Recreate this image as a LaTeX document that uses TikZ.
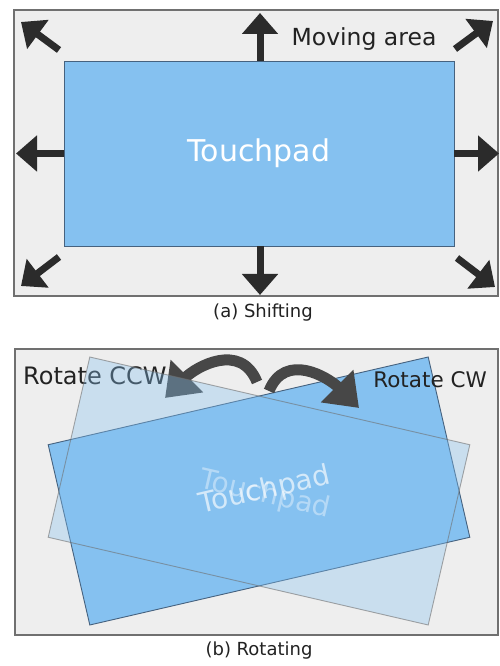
\documentclass[tikz,border=0pt]{standalone}
\usepackage{fontspec}
\setmainfont{DejaVu Sans}
\usetikzlibrary{arrows.meta}

\definecolor{panelgray}{HTML}{EEEEEE}
\definecolor{framegray}{HTML}{707070}
\definecolor{padblue}{HTML}{85C1F0}
\definecolor{padedge}{HTML}{46627F}
\definecolor{arrowdark}{HTML}{2B2B2B}
\definecolor{curvedark}{HTML}{474747}
\definecolor{labeldark}{HTML}{222222}

\begin{document}
\begin{tikzpicture}[x=1pt,y=1pt,
  panel/.style={draw=framegray, line width=1.6pt, fill=panelgray, inner sep=0pt},
  pad/.style={draw=padedge, line width=0.9pt, fill=padblue, inner sep=0pt,
    minimum width=390pt, minimum height=185pt, text=white,
    font=\fontsize{30}{30}\selectfont},
  ghostpad/.style={pad, draw=framegray, fill opacity=0.35, draw opacity=0.6},
  padtext/.style={inner sep=0pt, text=white, font=\fontsize{28}{28}\selectfont},
  movearrow/.style={draw=arrowdark, line width=7pt,
    -{Triangle[width=35pt,length=21pt]}},
  turnarrow/.style={draw=curvedark, line width=11pt, line cap=butt,
    -{Triangle[width=44pt,length=31pt]}},
  label/.style={text=labeldark, inner sep=0pt},
  caption/.style={text=labeldark, inner sep=0pt, font=\fontsize{18}{18}\selectfont}
]
\useasboundingbox[fill=white] (0,0) rectangle (499,666);

% ---------- (a) shifting ----------
\node[panel, minimum width=484pt, minimum height=286pt] (area) at (256,513) {};
\node[pad] (pad) at (259,512.5) {Touchpad};

\coordinate (upend)    at (260,653);
\coordinate (downend)  at (260,371);
\coordinate (leftend)  at (16,512.5);
\coordinate (rightend) at (499,512.5);
\coordinate (tlstart) at (59,616);  \coordinate (tlend) at (21,644);
\coordinate (trstart) at (455,617); \coordinate (trend) at (493,645);
\coordinate (blstart) at (59,409);  \coordinate (blend) at (21,380);
\coordinate (brstart) at (457,408); \coordinate (brend) at (495,379);

\draw[movearrow] ([xshift=1pt]pad.north) -- (upend);
\draw[movearrow] ([xshift=1pt]pad.south) -- (downend);
\draw[movearrow] (pad.west) -- (leftend);
\draw[movearrow] (pad.east) -- (rightend);
\draw[movearrow] (tlstart) -- (tlend);
\draw[movearrow] (trstart) -- (trend);
\draw[movearrow] (blstart) -- (blend);
\draw[movearrow] (brstart) -- (brend);

\node[label, font=\fontsize{23.5}{23.5}\selectfont] (movelabel) at (364,627) {Moving area};
\node[caption] (capa) at (263,353) {(a) Shifting};

% ---------- (b) rotating ----------
\node[panel, minimum width=483pt, minimum height=286pt] (area2) at (256.5,174) {};
\node[pad, rotate=13] (padccw) at (259,175) {};
\node[padtext, rotate=13] (textccw) at (265,175) {Touchpad};

\coordinate (ccwtail) at (257,284);
\coordinate (ccwtip)  at (165,268);
\coordinate (cwtail)  at (269,275);
\coordinate (cwtip)   at (359,258);
\draw[turnarrow] (ccwtail) to[out=112, in=45, looseness=1.2] (ccwtip);
\draw[turnarrow] (cwtail) to[out=68, in=135, looseness=1.2] (cwtip);

\node[label, anchor=west, font=\fontsize{24}{24}\selectfont] (ccwlabel) at (23,290) {Rotate CCW};
\node[label, anchor=east, font=\fontsize{21.5}{21.5}\selectfont] (cwlabel) at (487,286) {Rotate CW};

\node[ghostpad, rotate=-13] (padcw) at (259,175) {};
\node[padtext, rotate=-13, text opacity=0.4] (textcw) at (265,171) {Touchpad};

\node[caption] (capb) at (259,15) {(b) Rotating};
\end{tikzpicture}
\end{document}
